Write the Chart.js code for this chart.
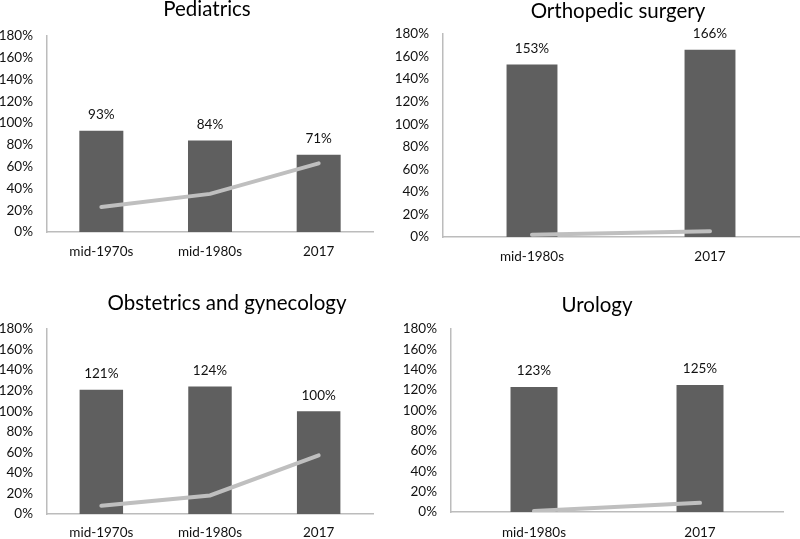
<!DOCTYPE html>
<html>
<head>
<meta charset="utf-8">
<script src="https://cdn.jsdelivr.net/npm/chart.js@4.4.0/dist/chart.umd.min.js"></script>
<style>
  html, body { margin: 0; padding: 0; background: #fff; }
  #wrap { position: relative; width: 800px; height: 539px; overflow: hidden; }
  .panel { position: absolute; }
</style>
</head>
<body>
<div id="wrap">
  <div class="panel" style="left:0;top:0;width:390px;height:268px"><canvas id="c1"></canvas></div>
  <div class="panel" style="left:392px;top:0;width:408px;height:270px"><canvas id="c2"></canvas></div>
  <div class="panel" style="left:0;top:270px;width:390px;height:269px"><canvas id="c3"></canvas></div>
  <div class="panel" style="left:400px;top:270px;width:400px;height:269px"><canvas id="c4"></canvas></div>
</div>
<script>
// data
const pedLabels = ['mid-1970s', 'mid-1980s', '2017'];
const pedBars = [93, 84, 71];
const pedLine = [23, 35, 63];

const orthoLabels = ['mid-1980s', '2017'];
const orthoBars = [153, 166];
const orthoLine = [2, 5];

const obgynLabels = ['mid-1970s', 'mid-1980s', '2017'];
const obgynBars = [121, 124, 100];
const obgynLine = [8, 18, 57];

const uroLabels = ['mid-1980s', '2017'];
const uroBars = [123, 125];
const uroLine = [1, 9];

const yMin = 0;
const yMax = 180;
const yStep = 20;

Chart.defaults.font.family = "Lato, 'Open Sans', sans-serif";
Chart.defaults.color = '#111';

const BAR_COLOR = '#5f5f5f';
const LINE_COLOR = '#bfbfbf';
const AXIS_COLOR = '#bcbcbc';
const TEXT_COLOR = '#111';

// value labels above the bars
const barValues = {
  id: 'barValues',
  afterDatasetsDraw(chart) {
    const meta = chart.getDatasetMeta(0);
    const data = chart.data.datasets[0].data;
    const ctx = chart.ctx;
    ctx.save();
    ctx.font = '13.5px Lato';
    ctx.fillStyle = TEXT_COLOR;
    ctx.textAlign = 'center';
    ctx.textBaseline = 'middle';
    meta.data.forEach((bar, i) => {
      ctx.fillText(data[i] + '%', bar.x, bar.y - 16);
    });
    ctx.restore();
  },
};

// panel title placed by hand
const panelTitle = {
  id: 'panelTitle',
  afterDraw(chart, args, opts) {
    const ctx = chart.ctx;
    ctx.save();
    ctx.font = '20.5px Lato';
    ctx.fillStyle = '#000';
    ctx.textAlign = 'center';
    ctx.textBaseline = 'alphabetic';
    ctx.fillText(opts.text, opts.x, opts.y);
    ctx.restore();
  },
};

function makePanel(id, title, labels, bars, line, box) {
  const ctx = document.getElementById(id).getContext('2d');
  return new Chart(ctx, {
    type: 'bar',
    data: {
      labels,
      datasets: [
        {
          type: 'bar',
          data: bars,
          backgroundColor: BAR_COLOR,
          borderWidth: 0,
          barPercentage: box.bar,
          categoryPercentage: 1,
          order: 1,
        },
        {
          type: 'line',
          data: line,
          borderColor: LINE_COLOR,
          borderWidth: 4,
          borderCapStyle: 'round',
          pointRadius: 0,
          tension: 0,
          order: 0,
        },
      ],
    },
    options: {
      responsive: true,
      maintainAspectRatio: false,
      animation: false,
      layout: { padding: { top: box.top, right: box.right, bottom: 0, left: 0 } },
      plugins: {
        legend: { display: false },
        tooltip: { enabled: false },
        panelTitle: { text: title, x: box.tx, y: box.ty },
      },
      scales: {
        x: {
          grid: { display: false, drawTicks: false },
          border: { color: AXIS_COLOR, width: 1.5 },
          ticks: { font: { size: 13.5 }, color: TEXT_COLOR, padding: box.xpad, maxRotation: 0 },
          afterFit: s => { s.height = box.xh; },
        },
        y: {
          min: yMin,
          max: yMax,
          grid: { display: false, drawTicks: false },
          border: { color: AXIS_COLOR, width: 1.5 },
          ticks: {
            stepSize: yStep,
            font: { size: 13.5 },
            color: TEXT_COLOR,
            padding: 14,
            callback: v => v + '%',
          },
          afterFit: s => { s.width = box.left; },
        },
      },
    },
    plugins: [barValues, panelTitle],
  });
}

makePanel('c1', 'Pediatrics', pedLabels, pedBars, pedLine,
  { left: 47, top: 36, right: 17, xh: 36, xpad: 12, bar: 0.405, tx: 207, ty: 16 });
makePanel('c2', 'Orthopedic surgery', orthoLabels, orthoBars, orthoLine,
  { left: 51, top: 34, right: 1, xh: 33, xpad: 12, bar: 0.286, tx: 226, ty: 18 });
makePanel('c3', 'Obstetrics and gynecology', obgynLabels, obgynBars, obgynLine,
  { left: 47, top: 59, right: 17, xh: 25, xpad: 11, bar: 0.40, tx: 227, ty: 40 });
makePanel('c4', 'Urology', uroLabels, uroBars, uroLine,
  { left: 51, top: 59, right: 17, xh: 27, xpad: 13, bar: 0.283, tx: 197, ty: 42 });
</script>
</body>
</html>
